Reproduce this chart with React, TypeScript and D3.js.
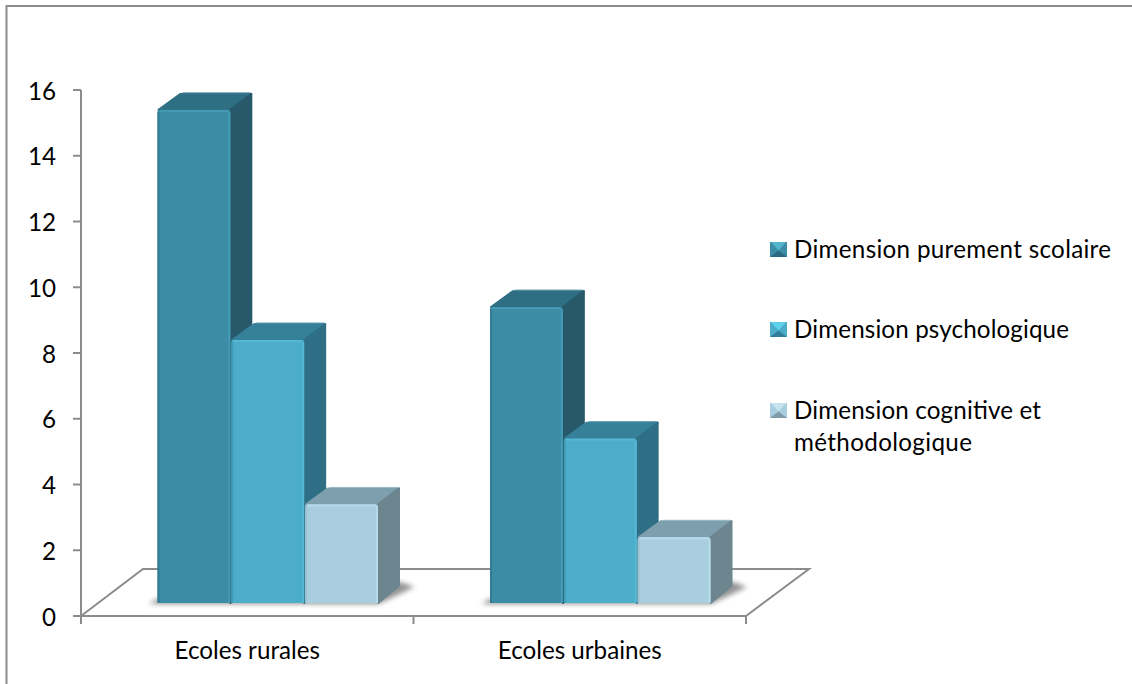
import React from "react";
import * as d3 from "d3";

const categories = ["Ecoles rurales", "Ecoles urbaines"];
const seriesNames = [
  "Dimension purement scolaire",
  "Dimension psychologique",
  "Dimension cognitive et méthodologique",
];
const scolaire = [15, 9];
const psychologique = [8, 5];
const cognitive = [3, 2];
const yTicks = [0, 2, 4, 6, 8, 10, 12, 14, 16];

const seriesValues = [scolaire, psychologique, cognitive];
const palette = [
  { front: "#3d8ca6", edge: "#327b93", light: "#459ab4", top: "#2f6f83", topEdge: "#4a8598", side: "#27596a", keyTop: "#52b4cd", keyBottom: "#2a6a80" },
  { front: "#4badca", edge: "#3f9bb7", light: "#55b8d4", top: "#37809a", topEdge: "#5a9cb0", side: "#2f6f85", keyTop: "#5fd0ec", keyBottom: "#2f7f99" },
  { front: "#a9cedf", edge: "#9cc2d3", light: "#b6dcec", top: "#7d9fae", topEdge: "#9ab8c4", side: "#6d858f", keyTop: "#c6e4ef", keyBottom: "#7f9ba8" },
];

const W = 1132;
const H = 684;
const axisLeft = 81;
const axisRight = 746;
const floorDx = 62;
const floorDy = 47;
const barLift = 13;
const depthX = 22;
const depthY = 17;
const font = "Lato, 'Open Sans', sans-serif";
const fontSize = 24.2;
const axisColor = "#8c8c8c";

const y = d3.scaleLinear().domain([0, 16]).range([616, 90]);
const x0 = d3.scaleBand<string>().domain(categories).range([axisLeft, axisRight]);
const x1 = d3.scaleBand<string>().domain(seriesNames).range([76, 297.5]);

const poly = (pts: [number, number][]) => pts.map((p) => p.join(",")).join(" ");

function Bar({ x, w, value, c }: { x: number; w: number; value: number; c: (typeof palette)[number] }) {
  const top = y(value) - barLift;
  const bottom = y(0) - barLift;
  const r = x + w;
  return (
    <g strokeLinejoin="round">
      <polygon
        points={poly([[x + 1, top], [x + depthX + 1, top - depthY + 1], [r + depthX - 1, top - depthY + 1], [r, top]])}
        fill={c.top}
        stroke={c.top}
        strokeWidth={2}
      />
      <line
        x1={x + depthX + 3}
        x2={r + depthX - 2}
        y1={top - depthY}
        y2={top - depthY}
        stroke={c.topEdge}
        strokeWidth={1}
      />
      <polygon
        points={poly([[r, top], [r + depthX - 1, top - depthY + 1], [r + depthX - 1, bottom - depthY], [r, bottom]])}
        fill={c.side}
        stroke={c.side}
        strokeWidth={2}
      />
      <rect x={x} y={top} width={w} height={bottom - top} rx={2} fill={c.front} />
      <rect x={x} y={top + 2} width={2} height={bottom - top - 2} fill={c.edge} />
      <rect x={r - 2} y={top + 2} width={2} height={bottom - top - 2} fill={c.light} />
      <rect x={x + 2} y={top} width={w - 4} height={2} fill={c.light} />
    </g>
  );
}

function LegendKey({ x, yy, c }: { x: number; yy: number; c: (typeof palette)[number] }) {
  const w = 17;
  const h = 15;
  const mx = x + w / 2;
  const my = yy + h / 2 + 1;
  return (
    <g>
      <rect x={x} y={yy} width={w} height={h} fill={c.front} />
      <polygon points={poly([[x + 1, yy], [x + w - 1, yy], [mx, my]])} fill={c.keyTop} />
      <polygon points={poly([[x, yy + h], [x + w, yy + h], [mx, my]])} fill={c.keyBottom} />
    </g>
  );
}

export default function App() {
  const baseY = y(0) - barLift;
  const legendRows = [
    { key: 242, lines: [{ text: seriesNames[0], y: 258, len: 317 }] },
    { key: 322, lines: [{ text: seriesNames[1], y: 338, len: 275 }] },
    {
      key: 403,
      lines: [
        { text: "Dimension cognitive et", y: 419, len: 247 },
        { text: "méthodologique", y: 451, len: 178 },
      ],
    },
  ];
  return (
    <svg
      width={W}
      height={H}
      viewBox={`0 0 ${W} ${H}`}
      style={{ position: "fixed", left: 0, top: 0, background: "#fff" }}
    >
      <defs>
        <filter id="floorShadow" x="-30%" y="-50%" width="160%" height="200%">
          <feGaussianBlur stdDeviation="2.5" />
        </filter>
      </defs>

      {/* Outer frame: only the top and left edges fall inside the canvas */}
      <polyline points={poly([[6.5, H], [6.5, 6], [W, 6]])} fill="none" stroke={axisColor} strokeWidth={2} />

      {/* Floor of the plot */}
      <polyline
        points={poly([
          [axisLeft, y(0)],
          [axisLeft + floorDx, y(0) - floorDy],
          [axisRight + floorDx + 1, y(0) - floorDy],
          [axisRight, y(0)],
          [axisLeft, y(0)],
        ])}
        fill="none"
        stroke={axisColor}
        strokeWidth={2}
      />

      {/* Value axis */}
      <line x1={axisLeft} x2={axisLeft} y1={y(16)} y2={y(0)} stroke={axisColor} strokeWidth={2} />
      {yTicks.map((t) => (
        <g key={t}>
          <line x1={axisLeft - 8} x2={axisLeft} y1={y(t)} y2={y(t)} stroke={axisColor} strokeWidth={2} />
          <text x={56} y={y(t) + 9.5} textAnchor="end" fontFamily={font} fontSize={fontSize} fill="#000">
            {t}
          </text>
        </g>
      ))}

      {/* Category axis */}
      {[axisLeft, x0(categories[1])!, axisRight].map((tx) => (
        <line key={tx} x1={tx} x2={tx} y1={y(0)} y2={y(0) + 8} stroke={axisColor} strokeWidth={2} />
      ))}
      {categories.map((c) => (
        <text
          key={c}
          x={x0(c)! + x0.bandwidth() / 2}
          y={659}
          textAnchor="middle"
          fontFamily={font}
          fontSize={fontSize}
          fill="#000"
        >
          {c}
        </text>
      ))}

      {/* Bars with their floor shadows */}
      {categories.map((c, ci) => {
        const gx = x0(c)!;
        const left = gx + x1.range()[0];
        const right = gx + x1.range()[1];
        return (
          <g key={c}>
            <polygon
              points={poly([
                [left - 8, baseY + 1],
                [right, baseY + 1],
                [right + depthX + 14, baseY - depthY + 1],
                [right + depthX, baseY - depthY - 4],
                [left, baseY - 4],
              ])}
              fill="#666"
              opacity={0.7}
              filter="url(#floorShadow)"
            />
            {seriesNames.map((s, si) => (
              <Bar
                key={s}
                x={gx + x1(s)! + 0.5}
                w={x1.bandwidth() - 1}
                value={seriesValues[si][ci]}
                c={palette[si]}
              />
            ))}
          </g>
        );
      })}

      {/* Legend */}
      {legendRows.map((row, i) => (
        <g key={i}>
          <LegendKey x={770} yy={row.key} c={palette[i]} />
          {row.lines.map((l) => (
            <text
              key={l.text}
              x={794}
              y={l.y}
              textLength={l.len}
              lengthAdjust="spacing"
              fontFamily={font}
              fontSize={fontSize}
              fill="#000"
            >
              {l.text}
            </text>
          ))}
        </g>
      ))}
    </svg>
  );
}
